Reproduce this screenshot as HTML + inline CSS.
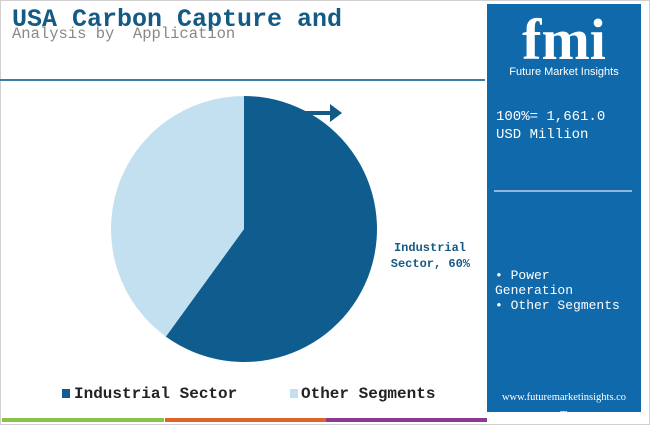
<!DOCTYPE html>
<html><head><meta charset="utf-8"><style>
body{margin:0;width:650px;height:425px;background:#fff;position:relative;overflow:hidden;font-family:"Liberation Mono",monospace}
.a{position:absolute}
</style></head><body>
<div class="a" style="left:0;top:0;width:648px;height:423px;border:1px solid #d0d0d0"></div>
<div class="a" style="left:12px;top:5px;font-size:25px;font-weight:bold;color:#135a85">USA Carbon Capture and</div>
<div class="a" style="left:12px;top:25px;font-size:15.5px;color:#888;white-space:pre">Analysis by  Application</div>
<div class="a" style="left:0;top:79px;width:485px;height:2px;background:#3d7ea6"></div>
<div class="a" style="left:487px;top:4px;width:154px;height:408px;background:#0f69aa;color:#fff">
  <div class="a" style="left:0;top:6px;width:154px;text-align:center;font-family:'Liberation Serif',serif;font-size:58px;font-weight:bold;line-height:60px">fmi</div>
  <div class="a" style="left:0;top:62px;width:154px;text-align:center;font-family:'Liberation Sans',sans-serif;font-size:11px">Future Market Insights</div>
  <div class="a" style="left:9px;top:104px;font-size:14px;line-height:18px">100%= 1,661.0<br>USD Million</div>
  <div class="a" style="left:7px;top:186px;width:138px;height:2px;background:#8fb8d8"></div>
  <div class="a" style="left:8px;top:264px;font-size:13px;line-height:15px">• Power<br>Generation<br>• Other Segments</div>
  <div class="a" style="left:-4px;top:386px;width:162px;text-align:center;font-family:'Liberation Serif',serif;font-size:10.5px;line-height:16px;white-space:nowrap">www.futuremarketinsights.co<br>m</div>
</div>
<svg class="a" style="left:0;top:0" width="487" height="425">
<g id="pie"></g>
<path d="M305 111 H330 V104 L342 113 L330 122 V115 H305 Z" fill="#135a85"/>
<text x="466" y="251" text-anchor="end" font-family="Liberation Mono" font-weight="bold" font-size="12" fill="#135a85">Industrial</text>
<text x="470" y="267" text-anchor="end" font-family="Liberation Mono" font-weight="bold" font-size="12" fill="#135a85">Sector, 60%</text>
<rect x="62" y="389" width="8" height="9" fill="#0f5d8f"/>
<text x="74" y="398" font-family="Liberation Mono" font-weight="bold" font-size="16" fill="#222">Industrial Sector</text>
<rect x="290" y="389" width="8" height="9" fill="#c3e0f0"/>
<text x="301" y="398" font-family="Liberation Mono" font-weight="bold" font-size="16" fill="#222">Other Segments</text>
<rect x="2" y="418" width="162" height="4" fill="#8bc34a"/>
<rect x="165" y="418" width="161" height="4" fill="#e0622a"/>
<rect x="326" y="418" width="161" height="4" fill="#8b3a8f"/>
</svg>
<script>
const categories=["Industrial Sector","Other Segments"];
const values=[60,40];
const colors=["#0f5d8f","#c3e0f0"];
const cx=244,cy=229,r=133;
const g=document.getElementById('pie');
const tot=values.reduce((a,b)=>a+b,0);
let a0=0;
values.forEach((v,i)=>{
  const a1=a0+v/tot*2*Math.PI;
  const x0=cx+r*Math.sin(a0),y0=cy-r*Math.cos(a0),x1=cx+r*Math.sin(a1),y1=cy-r*Math.cos(a1);
  const p=document.createElementNS('http://www.w3.org/2000/svg','path');
  p.setAttribute('d',`M${cx} ${cy} L${x0} ${y0} A${r} ${r} 0 ${a1-a0>Math.PI?1:0} 1 ${x1} ${y1} Z`);
  p.setAttribute('fill',colors[i]);
  
  
  g.appendChild(p);a0=a1;
});
</script>
</body></html>
